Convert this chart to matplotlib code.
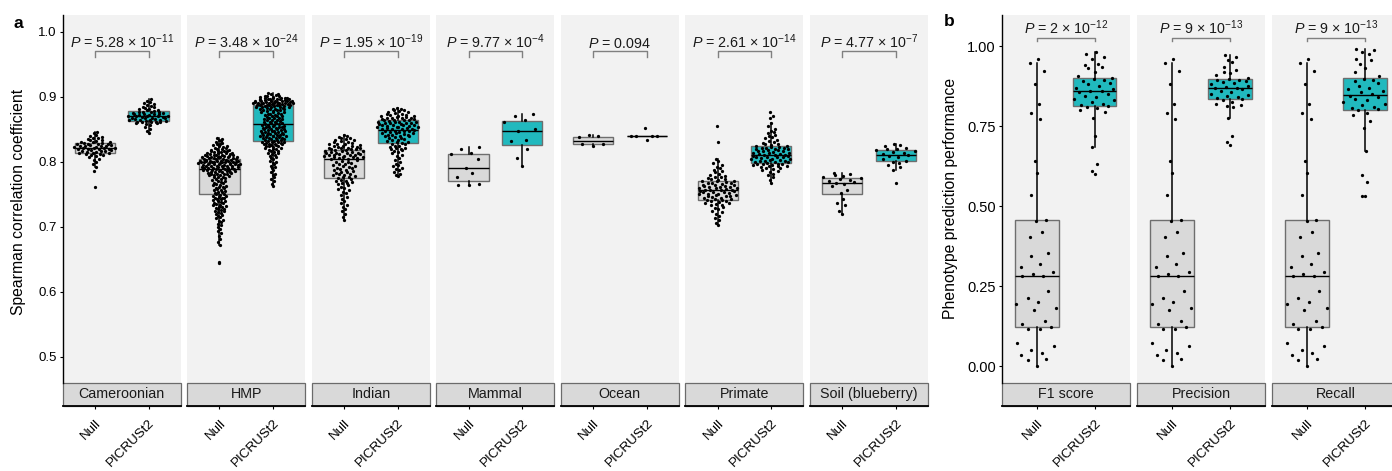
import numpy as np
import matplotlib
matplotlib.use('Agg')
import matplotlib.pyplot as plt
from matplotlib.patches import Rectangle

plt.rcParams['font.family'] = ['Liberation Sans', 'DejaVu Sans']
plt.rcParams['mathtext.fontset'] = 'custom'
plt.rcParams['mathtext.rm'] = 'Liberation Sans'
plt.rcParams['mathtext.it'] = 'Liberation Sans:italic'
plt.rcParams['mathtext.bf'] = 'Liberation Sans:bold'

# ---------------- data ----------------
groups = ['Null', 'PICRUSt2']

a_facets = ['Cameroonian', 'HMP', 'Indian', 'Mammal', 'Ocean', 'Primate', 'Soil (blueberry)']
a_pvals = [r'$P$ = 5.28 × 10$^{-11}$', r'$P$ = 3.48 × 10$^{-24}$', r'$P$ = 1.95 × 10$^{-19}$',
           r'$P$ = 9.77 × 10$^{-4}$', r'$P$ = 0.094', r'$P$ = 2.61 × 10$^{-14}$',
           r'$P$ = 4.77 × 10$^{-7}$']

cameroonian_null = [0.761, 0.786, 0.792, 0.797, 0.800, 0.803, 0.805, 0.807, 0.809, 0.810,
                    0.811, 0.812, 0.812, 0.813, 0.813, 0.814, 0.815, 0.815, 0.816, 0.817,
                    0.817, 0.818, 0.818, 0.819, 0.819, 0.820, 0.820, 0.821, 0.821, 0.822,
                    0.822, 0.823, 0.823, 0.824, 0.824, 0.825, 0.825, 0.826, 0.826, 0.827,
                    0.827, 0.828, 0.828, 0.829, 0.829, 0.830, 0.830, 0.831, 0.832, 0.833,
                    0.834, 0.835, 0.836, 0.837, 0.838, 0.840, 0.842, 0.844, 0.846]
cameroonian_picrust2 = [0.845, 0.848, 0.851, 0.854, 0.856, 0.858, 0.859, 0.860, 0.861, 0.861,
                        0.862, 0.862, 0.862, 0.863, 0.863, 0.864, 0.864, 0.865, 0.865, 0.866,
                        0.866, 0.867, 0.867, 0.868, 0.868, 0.869, 0.869, 0.870, 0.870, 0.870,
                        0.871, 0.871, 0.872, 0.872, 0.873, 0.873, 0.874, 0.874, 0.875, 0.875,
                        0.876, 0.876, 0.877, 0.877, 0.878, 0.879, 0.880, 0.881, 0.882, 0.883,
                        0.884, 0.885, 0.886, 0.887, 0.889, 0.890, 0.892, 0.894, 0.896]

hmp_null = [0.644, 0.646, 0.672, 0.676,
            0.681, 0.686, 0.690, 0.694, 0.697, 0.699,
            0.702, 0.705, 0.707, 0.709, 0.711, 0.713, 0.715, 0.716, 0.718, 0.719,
            0.721, 0.722, 0.724, 0.725, 0.726, 0.727, 0.728, 0.729, 0.730, 0.731,
            0.732, 0.733, 0.734, 0.735, 0.736, 0.737, 0.738, 0.739,
            0.740, 0.741, 0.742, 0.743, 0.744, 0.745, 0.745, 0.746, 0.747, 0.748, 0.749, 0.750,
            0.751, 0.752, 0.753, 0.754, 0.755, 0.756, 0.757, 0.758, 0.759, 0.760,
            0.761, 0.762, 0.763, 0.764, 0.765, 0.766, 0.767, 0.768, 0.769, 0.770,
            0.771, 0.772, 0.773, 0.774, 0.775, 0.776, 0.777, 0.777, 0.778, 0.779,
            0.779, 0.780, 0.781, 0.781, 0.782, 0.782, 0.783, 0.783, 0.784, 0.784,
            0.785, 0.785, 0.786, 0.786, 0.786, 0.787, 0.787, 0.787, 0.788, 0.788,
            0.789, 0.789, 0.789, 0.790, 0.790, 0.790, 0.791, 0.791, 0.791, 0.792,
            0.792, 0.792, 0.793, 0.793, 0.793, 0.794, 0.794, 0.794, 0.795, 0.795,
            0.795, 0.796, 0.796, 0.796, 0.797, 0.797, 0.797, 0.798, 0.798, 0.798,
            0.798, 0.799, 0.799, 0.799, 0.799, 0.800, 0.800, 0.800, 0.800, 0.801,
            0.801, 0.801, 0.801, 0.802, 0.802, 0.802, 0.803, 0.803, 0.803, 0.804,
            0.805, 0.805, 0.805, 0.806, 0.806, 0.806, 0.807, 0.807, 0.807, 0.808,
            0.808, 0.808, 0.809, 0.809, 0.809, 0.810, 0.810, 0.810, 0.811, 0.811,
            0.812, 0.812, 0.813, 0.813, 0.814, 0.814, 0.815, 0.815, 0.816, 0.816,
            0.817, 0.817, 0.818, 0.818, 0.819, 0.820, 0.821, 0.822, 0.823, 0.824,
            0.825, 0.826, 0.827, 0.828, 0.829, 0.830, 0.832, 0.834, 0.835, 0.837]
hmp_picrust2 = [0.763, 0.766, 0.770, 0.773, 0.776, 0.779, 0.782, 0.785, 0.788, 0.790,
                0.792, 0.794, 0.796, 0.798, 0.800, 0.802, 0.804, 0.806, 0.807, 0.809,
                0.810, 0.812, 0.813, 0.814, 0.815, 0.816, 0.817, 0.818, 0.819, 0.820,
                0.821, 0.822, 0.823, 0.824, 0.825, 0.825, 0.826, 0.826, 0.827, 0.827,
                0.828, 0.828, 0.829, 0.829, 0.830, 0.830, 0.831, 0.831, 0.832, 0.832,
                0.833, 0.834, 0.834, 0.835, 0.835, 0.836, 0.836, 0.837, 0.837, 0.838,
                0.838, 0.839, 0.839, 0.840, 0.840, 0.841, 0.841, 0.842, 0.842, 0.843,
                0.843, 0.844, 0.844, 0.845, 0.845, 0.846, 0.846, 0.847, 0.847, 0.848,
                0.848, 0.849, 0.849, 0.850, 0.850, 0.851, 0.851, 0.852, 0.852, 0.853,
                0.853, 0.854, 0.854, 0.855, 0.855, 0.856, 0.856, 0.857, 0.858, 0.858,
                0.859, 0.860, 0.860, 0.861, 0.862, 0.862, 0.863, 0.864, 0.864, 0.865,
                0.866, 0.866, 0.867, 0.868, 0.868, 0.869, 0.870, 0.870, 0.871, 0.872,
                0.872, 0.873, 0.874, 0.874, 0.875, 0.876, 0.876, 0.877, 0.878, 0.878,
                0.879, 0.880, 0.880, 0.881, 0.881, 0.882, 0.882, 0.883, 0.883, 0.884,
                0.884, 0.885, 0.885, 0.885, 0.886, 0.886, 0.886, 0.887, 0.887, 0.887,
                0.888, 0.888, 0.888, 0.888, 0.889, 0.889, 0.889, 0.889, 0.890, 0.890,
                0.890, 0.890, 0.891, 0.891, 0.891, 0.891, 0.892, 0.892, 0.892, 0.892,
                0.893, 0.893, 0.893, 0.893, 0.894, 0.894, 0.894, 0.895, 0.895, 0.895,
                0.896, 0.896, 0.896, 0.897, 0.897, 0.897, 0.898, 0.898, 0.898, 0.899,
                0.899, 0.900, 0.900, 0.901, 0.901, 0.902, 0.903, 0.904, 0.905, 0.906]

indian_null = [0.710, 0.715, 0.720, 0.724, 0.727, 0.730, 0.734, 0.737, 0.740, 0.743,
               0.746, 0.749, 0.752, 0.754, 0.756, 0.758, 0.760, 0.762, 0.764, 0.766,
               0.767, 0.768, 0.769, 0.770, 0.771, 0.772, 0.774,
               0.775, 0.776, 0.777, 0.778, 0.779, 0.780, 0.781, 0.782, 0.783, 0.784,
               0.785, 0.786, 0.787, 0.788, 0.789, 0.790, 0.791, 0.792, 0.793, 0.794,
               0.795, 0.796, 0.797, 0.798, 0.799, 0.800, 0.801, 0.803,
               0.805, 0.805, 0.806, 0.806, 0.807, 0.807, 0.808, 0.808, 0.809, 0.809,
               0.810, 0.810, 0.811, 0.811, 0.812, 0.812, 0.813, 0.813, 0.814, 0.814,
               0.815, 0.815, 0.816, 0.816, 0.817, 0.818, 0.818,
               0.819, 0.820, 0.820, 0.821, 0.821, 0.822, 0.822, 0.823, 0.823, 0.824,
               0.825, 0.825, 0.826, 0.827, 0.827, 0.828, 0.829, 0.830, 0.831, 0.832,
               0.833, 0.834, 0.835, 0.836, 0.837, 0.838, 0.840, 0.841]
indian_picrust2 = [0.778, 0.780, 0.782, 0.785, 0.787, 0.789, 0.791, 0.793, 0.795, 0.797,
                   0.800, 0.803, 0.806, 0.809, 0.811, 0.813, 0.815, 0.817, 0.818, 0.819,
                   0.820, 0.821, 0.822, 0.823, 0.824, 0.825, 0.827,
                   0.828, 0.829, 0.830, 0.831, 0.832, 0.833, 0.834, 0.835, 0.836, 0.837,
                   0.838, 0.839, 0.840, 0.840, 0.841, 0.842, 0.842, 0.843, 0.844, 0.844,
                   0.845, 0.846, 0.846, 0.847, 0.847, 0.848, 0.848, 0.849,
                   0.850, 0.850, 0.851, 0.851, 0.852, 0.852, 0.853, 0.853, 0.854, 0.854,
                   0.855, 0.855, 0.856, 0.856, 0.857, 0.857, 0.858, 0.858, 0.859, 0.859,
                   0.860, 0.860, 0.861, 0.861, 0.862, 0.862, 0.863,
                   0.864, 0.864, 0.865, 0.865, 0.866, 0.866, 0.867, 0.867, 0.868, 0.868,
                   0.869, 0.869, 0.870, 0.870, 0.871, 0.872, 0.872, 0.873, 0.874, 0.875,
                   0.876, 0.877, 0.878, 0.879, 0.880, 0.881, 0.882, 0.883]

mammal_null = [0.764, 0.765, 0.766, 0.776, 0.783, 0.790, 0.804, 0.8125, 0.813, 0.8205, 0.823]
mammal_picrust2 = [0.794, 0.806, 0.819, 0.832, 0.834, 0.848, 0.851, 0.861, 0.864, 0.871, 0.874]

ocean_null = [0.824, 0.827, 0.828, 0.8375, 0.839, 0.8415]
ocean_picrust2 = [0.834, 0.839, 0.839, 0.839, 0.839, 0.8515]

primate_null = [0.702, 0.706, 0.710, 0.714, 0.717, 0.720, 0.723, 0.725, 0.727, 0.729,
                0.731, 0.733, 0.734, 0.735, 0.736, 0.737, 0.738, 0.739, 0.740, 0.741, 0.741,
                0.742, 0.743, 0.744, 0.745, 0.746, 0.747, 0.747, 0.748, 0.749, 0.749,
                0.750, 0.751, 0.751, 0.752, 0.753, 0.753, 0.754, 0.755, 0.755, 0.756, 0.756,
                0.757, 0.757, 0.758, 0.759, 0.759, 0.760, 0.761, 0.761, 0.762, 0.763,
                0.763, 0.764, 0.765, 0.765, 0.766, 0.767, 0.767, 0.768, 0.769, 0.770, 0.770,
                0.771, 0.772, 0.773, 0.774, 0.775, 0.776, 0.777, 0.778, 0.780, 0.782,
                0.784, 0.786, 0.788, 0.790, 0.792, 0.795, 0.798, 0.801, 0.804, 0.830, 0.855]
primate_picrust2 = [0.768, 0.772, 0.776, 0.779, 0.782, 0.784, 0.786, 0.788, 0.789, 0.790,
                    0.791, 0.792, 0.793, 0.793, 0.794, 0.795, 0.795, 0.796, 0.796, 0.797, 0.797,
                    0.798, 0.799, 0.799, 0.800, 0.801, 0.801, 0.802, 0.803, 0.803, 0.804,
                    0.805, 0.805, 0.806, 0.807, 0.807, 0.808, 0.808, 0.809, 0.809, 0.810, 0.810,
                    0.811, 0.812, 0.812, 0.813, 0.814, 0.814, 0.815, 0.816, 0.816, 0.817,
                    0.818, 0.818, 0.819, 0.820, 0.820, 0.821, 0.822, 0.822, 0.823, 0.823, 0.824,
                    0.825, 0.826, 0.827, 0.828, 0.829, 0.830, 0.832, 0.834, 0.836, 0.838,
                    0.840, 0.842, 0.844, 0.846, 0.848, 0.851, 0.855, 0.859, 0.867, 0.871, 0.877]

soil_null = [0.720, 0.724, 0.733, 0.737, 0.743, 0.752, 0.757, 0.763, 0.766, 0.767,
             0.769, 0.770, 0.772, 0.774, 0.775, 0.776, 0.778, 0.780, 0.782, 0.783]
soil_picrust2 = [0.767, 0.788, 0.792, 0.795, 0.798, 0.800, 0.802, 0.805, 0.807, 0.809, 0.810,
                 0.812, 0.813, 0.815, 0.816, 0.818, 0.819, 0.820, 0.822, 0.824, 0.826, 0.828]

a_null = [cameroonian_null, hmp_null, indian_null, mammal_null, ocean_null, primate_null, soil_null]
a_picrust2 = [cameroonian_picrust2, hmp_picrust2, indian_picrust2, mammal_picrust2,
              ocean_picrust2, primate_picrust2, soil_picrust2]

b_facets = ['F1 score', 'Precision', 'Recall']
b_pvals = [r'$P$ = 2 × 10$^{-12}$', r'$P$ = 9 × 10$^{-13}$', r'$P$ = 9 × 10$^{-13}$']

phenotype_null = [0.959, 0.946, 0.922, 0.881, 0.820, 0.790, 0.771, 0.640, 0.604, 0.535,
                  0.455, 0.453, 0.418, 0.403, 0.352, 0.345, 0.318, 0.308, 0.293, 0.287,
                  0.280, 0.280, 0.235, 0.2125, 0.200, 0.195, 0.180, 0.175, 0.142, 0.132,
                  0.122, 0.117, 0.117, 0.071, 0.063, 0.051, 0.042, 0.034, 0.022, 0.019, 0.000]
f1_picrust2 = [0.980, 0.975, 0.965, 0.960, 0.945, 0.940, 0.935, 0.930, 0.920, 0.905,
               0.900, 0.898, 0.895, 0.890, 0.885, 0.880, 0.875, 0.870, 0.865, 0.860,
               0.858, 0.855, 0.850, 0.845, 0.840, 0.835, 0.830, 0.825, 0.820, 0.815,
               0.812, 0.810, 0.805, 0.800, 0.795, 0.775, 0.720, 0.685, 0.630, 0.610, 0.600]
precision_picrust2 = [0.972, 0.965, 0.955, 0.950, 0.935, 0.925, 0.920, 0.915, 0.910, 0.900,
                      0.898, 0.895, 0.893, 0.890, 0.888, 0.885, 0.880, 0.875, 0.873, 0.870,
                      0.868, 0.865, 0.860, 0.855, 0.850, 0.848, 0.845, 0.840, 0.838, 0.835,
                      0.830, 0.825, 0.820, 0.815, 0.812, 0.810, 0.774, 0.720, 0.700, 0.690]
recall_picrust2 = [0.990, 0.988, 0.980, 0.975, 0.960, 0.955, 0.945, 0.930, 0.920, 0.905,
                   0.898, 0.895, 0.890, 0.885, 0.875, 0.870, 0.865, 0.860, 0.855, 0.850,
                   0.845, 0.840, 0.835, 0.830, 0.825, 0.820, 0.815, 0.810, 0.805, 0.802,
                   0.800, 0.790, 0.785, 0.765, 0.745, 0.672, 0.597, 0.576, 0.532, 0.530]
b_null = [phenotype_null, phenotype_null, phenotype_null]
b_picrust2 = [f1_picrust2, precision_picrust2, recall_picrust2]

# ---------------- style ----------------
NULL_COLOR = '#D9D9D9'
PIC_COLOR = '#21B9BE'
PANEL_BG = '#F2F2F2'
W, H = 1392, 471
TOP_PX, BOT_PX = 15.0, 382.7
STRIP_PX = 23.0


def vdc(n, base=2):
    out = []
    for i in range(1, n + 1):
        q, denom, x = i, 1, 0.0
        while q > 0:
            denom *= base
            q, r = divmod(q, base)
            x += r / denom
        out.append(x)
    return np.array(out)


def quasi_offsets(y, width=0.4, adjust=0.5):
    y = np.asarray(y, float)
    n = len(y)
    if n < 2:
        return np.zeros(n)
    sd = y.std(ddof=1)
    q75, q25 = np.percentile(y, [75, 25])
    lo = min(sd, (q75 - q25) / 1.34)
    if lo == 0:
        lo = sd if sd > 0 else 1.0
    bw = 0.9 * lo * n ** -0.2 * adjust
    grid = np.linspace(y.min() - 3 * bw, y.max() + 3 * bw, 512)
    dens = np.exp(-0.5 * ((grid[:, None] - y[None, :]) / bw) ** 2).sum(1)
    dens /= dens.max()
    d = np.interp(y, grid, dens)
    ranks = np.argsort(np.argsort(y, kind='stable'), kind='stable')
    return (vdc(n)[ranks] - 0.5) * 2 * width * d


fig = plt.figure(figsize=(W / 100, H / 100), dpi=100)


def add_ax(left_px, width_px):
    return fig.add_axes([left_px / W, 1 - BOT_PX / H, width_px / W, (BOT_PX - TOP_PX) / H])


def draw_facet(ax, null_vals, pic_vals, label, ptxt, ylim, yticks, yticklabels, first,
               text_y, br_y, leg_y, ytick_fs):
    ax.set_facecolor(PANEL_BG)
    # spines first (set_position resets ticks)
    for s in ['top', 'right']:
        ax.spines[s].set_visible(False)
    ax.spines['bottom'].set_position(('outward', STRIP_PX * 0.72))
    ax.spines['bottom'].set_linewidth(1.3)
    ax.spines['bottom'].set_color('black')

    bp = ax.boxplot([null_vals, pic_vals], positions=[1, 2], widths=0.75, patch_artist=True,
                    showfliers=False, showcaps=False, whis=1.5,
                    medianprops=dict(color='black', linewidth=1.0),
                    whiskerprops=dict(color='black', linewidth=1.1),
                    boxprops=dict(edgecolor='#6E6E6E', linewidth=1.0))
    for patch, c in zip(bp['boxes'], [NULL_COLOR, PIC_COLOR]):
        patch.set_facecolor(c)
    for i, vals in enumerate([null_vals, pic_vals]):
        off = quasi_offsets(vals)
        ax.scatter(np.full(len(vals), i + 1.0) + off, vals, s=5.5, c='black',
                   linewidths=0, zorder=3)
    ax.set_xlim(0.4, 2.6)
    ax.set_ylim(*ylim)
    ax.tick_params(axis='x', length=2.3, width=0.8, pad=6.0, color='black')
    ax.set_xticks([1, 2])
    ax.set_xticklabels(groups, fontsize=9.6, color='black', rotation=45, ha='right',
                       va='top', rotation_mode='anchor')
    if first:
        ax.tick_params(axis='y', length=2.5, width=0.8, pad=2)
        ax.set_yticks(yticks)
        ax.set_yticklabels(yticklabels, fontsize=ytick_fs, color='black')
        ax.spines['left'].set_linewidth(1.0)
    else:
        ax.set_yticks([])
        ax.spines['left'].set_visible(False)
    h_px = BOT_PX - TOP_PX
    sh = (STRIP_PX - 0.5) / h_px
    ax.add_patch(Rectangle((0, -STRIP_PX / h_px), 1, sh, transform=ax.transAxes,
                           facecolor='#D9D9D9', edgecolor='#6B6B6B', linewidth=0.9,
                           clip_on=False, zorder=1))
    ax.text(0.5, -STRIP_PX / h_px + sh / 2, label, transform=ax.transAxes, ha='center',
            va='center', fontsize=10.3, color='#1A1A1A')
    ax.plot([1, 1, 2, 2], [leg_y, br_y, br_y, leg_y], color='#808080', lw=1.0,
            clip_on=False)
    ax.text(1.5, text_y, ptxt, ha='center', va='baseline', fontsize=10.3, color='#1A1A1A')


# panel a
a_left0, a_step, a_width = 62.7, 124.55, 118.0
for i in range(len(a_facets)):
    ax = add_ax(a_left0 + i * a_step, a_width)
    draw_facet(ax, a_null[i], a_picrust2[i], a_facets[i], a_pvals[i], (0.46, 1.026),
               [0.5, 0.6, 0.7, 0.8, 0.9, 1.0], ['0.5', '0.6', '0.7', '0.8', '0.9', '1.0'],
               i == 0, 0.9754, 0.9708, 0.9606, 9.5)

# panel b
b_left0, b_step, b_width = 1002.0, 135.2, 127.5
for i in range(len(b_facets)):
    ax = add_ax(b_left0 + i * b_step, b_width)
    draw_facet(ax, b_null[i], b_picrust2[i], b_facets[i], b_pvals[i], (-0.052, 1.097),
               [0.0, 0.25, 0.5, 0.75, 1.0], ['0.00', '0.25', '0.50', '0.75', '1.00'],
               i == 0, 1.0375, 1.026, 1.017, 10.5)

fig.text(19 / W, 1 - 202 / H, 'Spearman correlation coefficient', rotation=90,
         ha='center', va='center', fontsize=11.3)
fig.text(950 / W, 1 - 198.5 / H, 'Phenotype prediction performance', rotation=90,
         ha='center', va='center', fontsize=11.3)
fig.text(18 / W, 1 - 23 / H, 'a', ha='center', va='center', fontsize=12.5, fontweight='bold')
fig.text(949 / W, 1 - 21 / H, 'b', ha='center', va='center', fontsize=12.5, fontweight='bold')

fig.savefig('out.png', dpi=100, facecolor='white')
